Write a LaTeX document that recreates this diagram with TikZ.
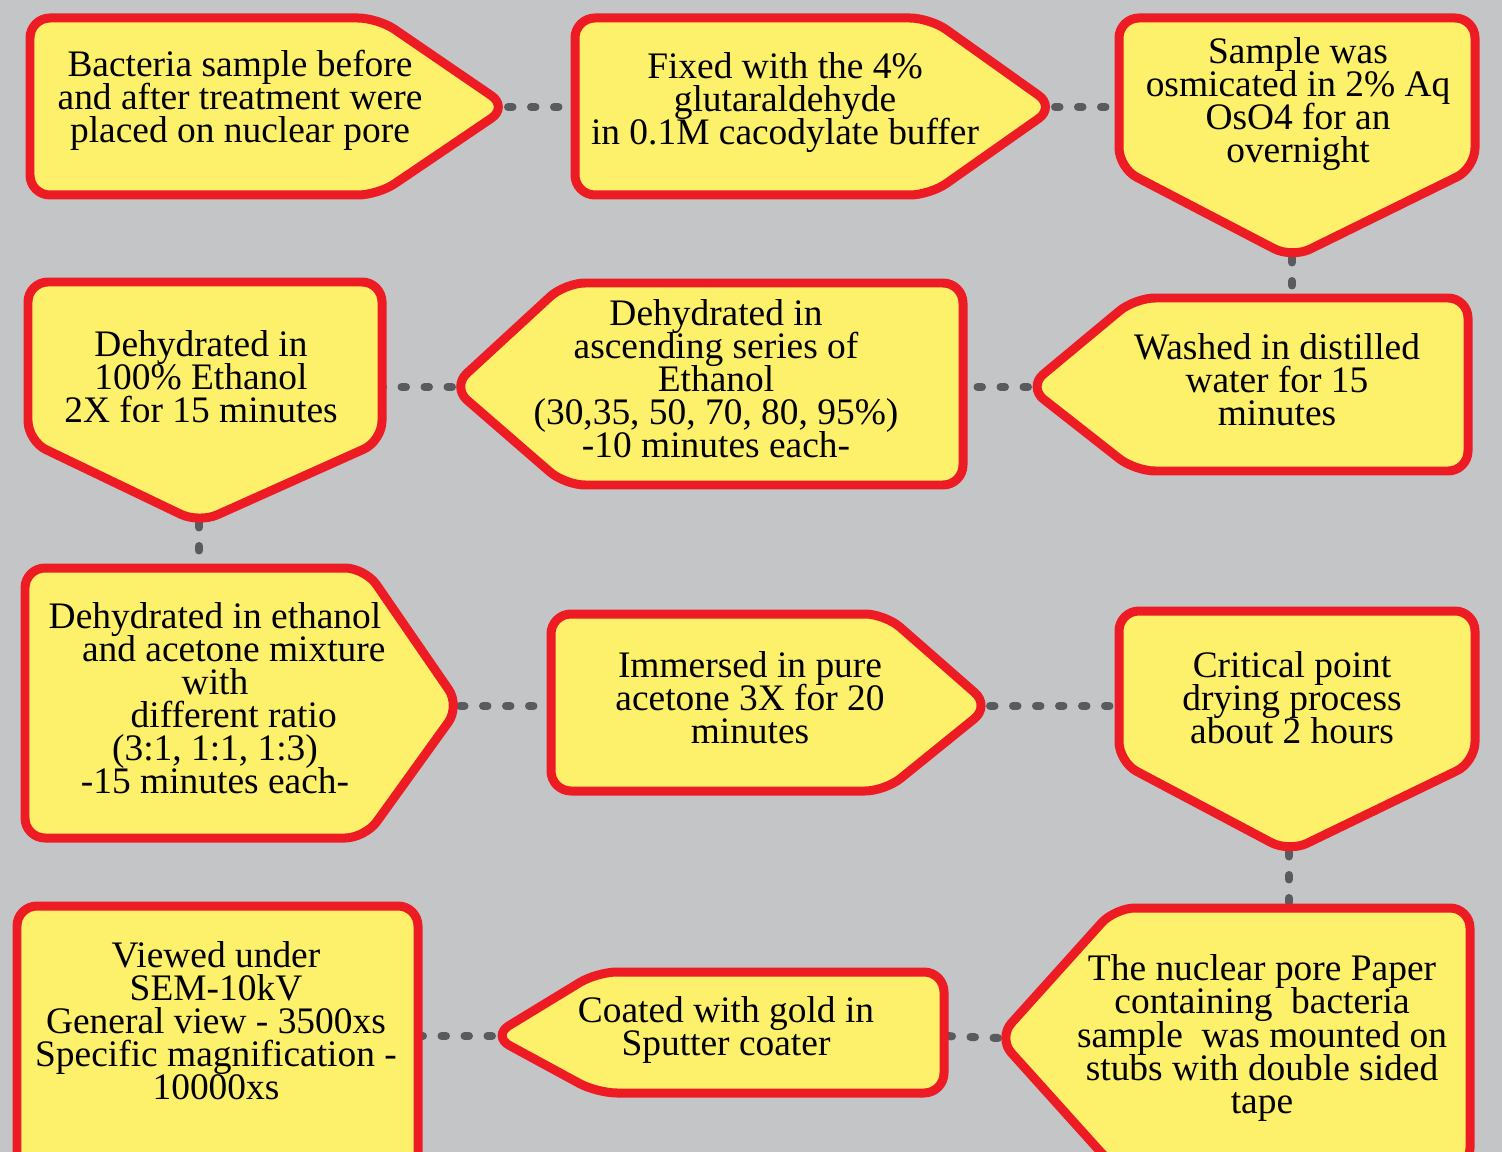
\documentclass[tikz,border=0pt]{standalone}
\usepackage{fontspec}
\setmainfont{Liberation Serif}
\definecolor{bggray}{HTML}{C4C5C7}
\definecolor{boxyellow}{HTML}{FDF06B}
\definecolor{boxred}{HTML}{ED1C24}
\definecolor{dotgray}{HTML}{5A5B5F}
\pgfdeclarelayer{back}
\pgfsetlayers{back,main}
\setlength{\lineskiplimit}{-100pt}

\begin{document}
\begin{tikzpicture}[x=0.02cm, y=-0.02cm,
    stepshape/.style={draw=boxred, fill=boxyellow, line width=0.18cm, rounded corners=0.4cm},
    steptext/.style={align=center, inner sep=0pt, font={\fontsize{21.3pt}{18.8pt}\selectfont}},
    link/.style={draw=dotgray, line width=0.16cm, line cap=round, dash pattern=on 0.09cm off 0.37cm}]
        \useasboundingbox (0,0) rectangle (1502,1152);
        \clip (0,0) rectangle (1502,1152);
        \begin{pgfonlayer}{back}
            \fill[bggray] (0,0) rectangle (1502,1152);
        \end{pgfonlayer}

        % row 1
        \draw[stepshape] (200,18) -- (378,18) -- (508,107) coordinate (sample-out) -- (378,195) -- (30,195) -- (30,18) -- cycle;
        \draw[stepshape] (700,18) -- (930,18) -- (1055,107) coordinate (fix-out) -- (930,195) -- (575,195) -- (575,107) coordinate (fix-in) -- (575,18) -- cycle;
        \draw[stepshape] (1300,18) -- (1475,18) -- (1475,168) -- (1292,258) coordinate (osmic-out) -- (1119,168) -- (1119,107) coordinate (osmic-in) -- (1119,18) -- cycle;

        % row 2
        \draw[stepshape] (1292,298) coordinate (wash-in) -- (1468,298) -- (1468,471) -- (1135,471) -- (1028,387) coordinate (wash-out) -- (1135,298) -- cycle;
        \draw[stepshape] (760,283) -- (963,283) -- (963,387) coordinate (series-in) -- (963,485) -- (565,485) -- (452,387) coordinate (series-out) -- (565,283) -- cycle;
        \draw[stepshape] (200,282) -- (382,282) -- (382,387) coordinate (abs-in) -- (382,441) -- (199,523) coordinate (abs-out) -- (28,441) -- (28,282) -- cycle;

        % row 3
        \draw[stepshape] (199,568) coordinate (mix-in) -- (365,568) -- (460,706) coordinate (mix-out) -- (365,838) -- (25,838) -- (25,568) -- cycle;
        \draw[stepshape] (750,614) -- (885,614) -- (990,706) coordinate (acetone-out) -- (885,791) -- (551,791) -- (551,706) coordinate (acetone-in) -- (551,614) -- cycle;
        \draw[stepshape] (1300,611) -- (1475,611) -- (1475,762) -- (1289,852) coordinate (cpd-out) -- (1119,762) -- (1119,706) coordinate (cpd-in) -- (1119,611) -- cycle;

        % row 4
        \draw[stepshape] (1289,908) coordinate (mount-in) -- (1470,908) -- (1470,1168) -- (1115,1168) -- (998,1038) coordinate (mount-out) -- (1115,908) -- cycle;
        \draw[stepshape] (750,972) -- (944,972) -- (944,1036) coordinate (coat-in) -- (944,1093) -- (597,1093) -- (492,1036) coordinate (coat-out) -- (597,972) -- cycle;
        \draw[stepshape] (200,906) -- (418,906) -- (418,1036) coordinate (view-in) -- (418,1175) -- (17,1175) -- (17,906) -- cycle;

        \node[steptext] (sample) at (240,100) {Bacteria sample before\\and after treatment were\\placed on nuclear pore};
        \node[steptext] (fix) at (785,103) {Fixed with the 4\%\\glutaraldehyde\\in 0.1M cacodylate buffer};
        \node[steptext] (osmic) at (1298,104) {Sample was\\osmicated in 2\% Aq\\OsO4 for an\\overnight};
        \node[steptext] (wash) at (1277,380) {Washed in distilled\\water for 15\\minutes};
        \node[steptext] (series) at (716,379) {Dehydrated in\\ascending series of\\Ethanol\\(30,35, 50, 70, 80, 95\%)\\-10 minutes each-};
        \node[steptext] (abs) at (201,377) {Dehydrated in\\100\% Ethanol\\2X for 15 minutes};
        \node[steptext] (mix) at (215,698) {Dehydrated in ethanol\\\hspace*{1em}and acetone mixture\\with\\\hspace*{1em}different ratio\\(3:1, 1:1, 1:3)\\-15 minutes each-};
        \node[steptext] (acetone) at (750,698) {Immersed in pure\\acetone 3X for 20\\minutes};
        \node[steptext] (cpd) at (1292,698) {Critical point\\drying process\\about 2 hours};
        \node[steptext] (mount) at (1262,1038) {The nuclear pore Paper\\containing~ bacteria\\sample~ was mounted on\\stubs with double sided\\tape};
        \node[steptext] (coat) at (726,1030) {Coated with gold in\\Sputter coater};
        \node[steptext] (view) at (216,1021) {Viewed under\\SEM-10kV\\General view - 3500xs\\Specific magnification -\\10000xs};

        \begin{pgfonlayer}{back}
            \draw[link] (sample-out) -- (fix-in);
            \draw[link] (fix-out) -- (osmic-in);
            \draw[link] (osmic-out) -- (wash-in);
            \draw[link] (wash-out) -- (series-in);
            \draw[link] (series-out) -- (abs-in);
            \draw[link] (abs-out) -- (mix-in);
            \draw[link] (mix-out) -- (acetone-in);
            \draw[link] (acetone-out) -- (cpd-in);
            \draw[link] (cpd-out) -- (mount-in);
            \draw[link] (mount-out) -- (coat-in);
            \draw[link] (coat-out) -- (view-in);
        \end{pgfonlayer}
    \end{tikzpicture}
\end{document}
